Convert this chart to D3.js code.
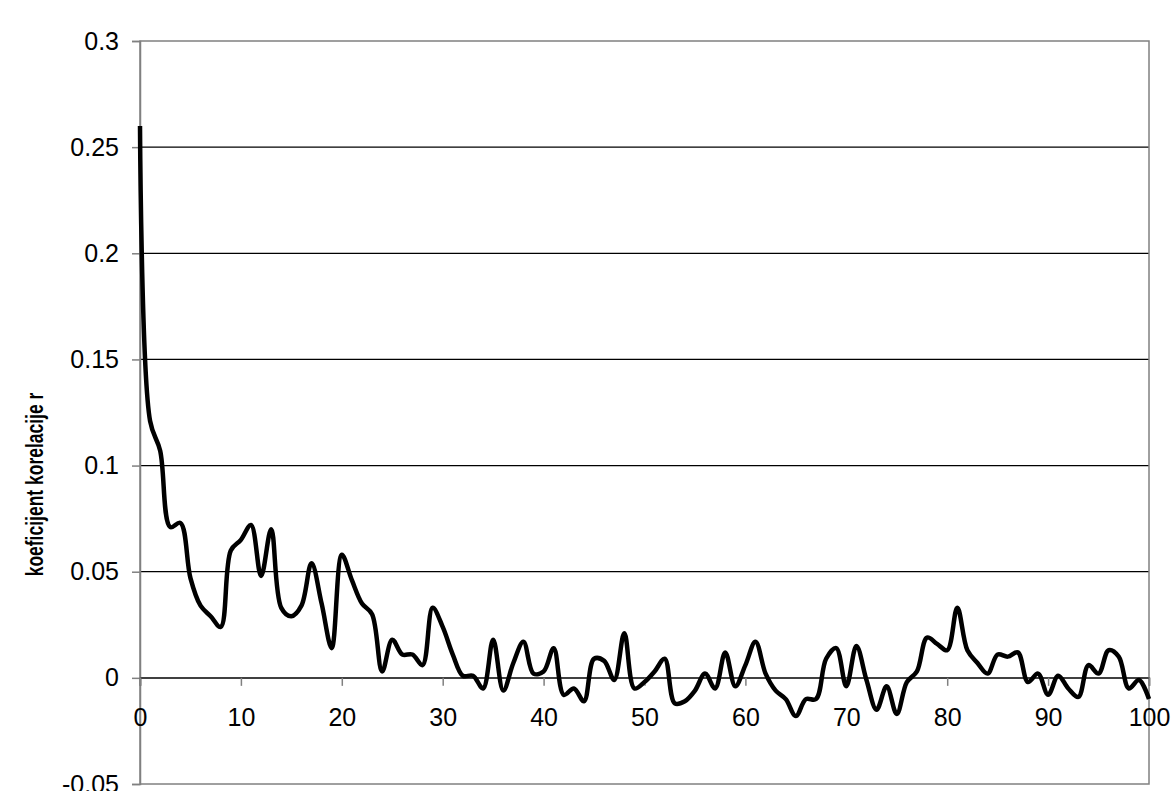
<!DOCTYPE html>
<html>
<head>
<meta charset="utf-8">
<script src="https://cdn.jsdelivr.net/npm/d3@7"></script>
<style>
  html, body { margin: 0; padding: 0; background: #fff; }
  text { font-family: "Liberation Sans", Arial, sans-serif; }
</style>
</head>
<body>
<div id="chart"></div>
<script>
// lag (0..100) and correlation coefficient
var lags = d3.range(0, 101);
var rValues = [
  0.260, 0.121, 0.107, 0.071, 0.073, 0.047, 0.034, 0.029, 0.024, 0.060,
  0.065, 0.072, 0.048, 0.070, 0.033, 0.029, 0.034, 0.054, 0.035, 0.014,
  0.058, 0.046, 0.035, 0.030, 0.003, 0.018, 0.011, 0.011, 0.006, 0.033,
  0.024, 0.011, 0.001, 0.001, -0.005, 0.018, -0.006, 0.007, 0.017, 0.002,
  0.003, 0.014, -0.008, -0.005, -0.011, 0.009, 0.008, -0.001, 0.021, -0.005,
  -0.002, 0.003, 0.009, -0.012, -0.011, -0.006, 0.002, -0.005, 0.012, -0.004,
  0.006, 0.017, 0.002, -0.006, -0.010, -0.018, -0.010, -0.010, 0.009, 0.014,
  -0.004, 0.015, -0.001, -0.015, -0.004, -0.017, -0.002, 0.003, 0.019, 0.016,
  0.013, 0.033, 0.013, 0.007, 0.002, 0.011, 0.010, 0.012, -0.002, 0.002,
  -0.008, 0.001, -0.005, -0.009, 0.006, 0.002, 0.013, 0.010, -0.005, -0.001,
  -0.010
];
var xTicks = [0, 10, 20, 30, 40, 50, 60, 70, 80, 90, 100];
var yTicks = [-0.05, 0, 0.05, 0.1, 0.15, 0.2, 0.25, 0.3];
var yLabel = "koeficijent korelacije r";

var width = 1176, height = 791;
// plot area edges (note: "top" is taken by window.top)
var plotLeft = 140, plotRight = 1149, plotTop = 41, plotBottom = 784;

var svg = d3.select("#chart").append("svg")
  .attr("width", width)
  .attr("height", height);

var x = d3.scaleLinear().domain([0, 100]).range([plotLeft, plotRight]);
var y = d3.scaleLinear().domain([-0.05, 0.3]).range([plotBottom, plotTop]);

// horizontal gridlines
svg.append("g").selectAll("line")
  .data(yTicks.filter(function(d) { return d > -0.04 && d < 0.29; }))
  .enter().append("line")
  .attr("x1", plotLeft).attr("x2", plotRight)
  .attr("y1", function(d) { return y(d); })
  .attr("y2", function(d) { return y(d); })
  .style("stroke", "#000")
  .style("stroke-width", 1.2);

// plot area border
svg.append("rect")
  .attr("x", plotLeft).attr("y", plotTop)
  .attr("width", plotRight - plotLeft).attr("height", plotBottom - plotTop)
  .style("fill", "none")
  .style("stroke", "#808080")
  .style("stroke-width", 1.5);

// y axis with ticks on the left
var yAxis = d3.axisLeft(y)
  .tickValues(yTicks)
  .tickSize(8)
  .tickPadding(13)
  .tickFormat(function(d) { return String(+d.toFixed(2)); });
var gy = svg.append("g")
  .attr("transform", "translate(" + plotLeft + ",0)")
  .call(yAxis);
gy.attr("font-size", null).attr("font-family", null);
gy.select(".domain").style("stroke", "#808080").style("stroke-width", 1.5);
gy.selectAll(".tick line").style("stroke", "#808080").style("stroke-width", 1.5);
gy.selectAll(".tick text")
  .style("font-size", "25px")
  .style("fill", "#000");

// x axis sits on r = 0
var xAxis = d3.axisBottom(x)
  .tickValues(xTicks)
  .tickSize(8)
  .tickPadding(22)
  .tickFormat(d3.format("d"));
var gx = svg.append("g")
  .attr("transform", "translate(0," + y(0) + ")")
  .call(xAxis);
gx.attr("font-size", null).attr("font-family", null);
gx.select(".domain").style("stroke", "#404040").style("stroke-width", 1.5);
gx.selectAll(".tick line").style("stroke", "#808080").style("stroke-width", 1.5);
gx.selectAll(".tick text")
  .style("font-size", "25px")
  .style("fill", "#000");

// y axis title (glyphs are wider in the original, hence the scale)
svg.append("text")
  .attr("transform", "translate(43," + ((plotTop + plotBottom) / 2 + 72) + ") rotate(-90) scale(1,1.4)")
  .attr("text-anchor", "middle")
  .style("font-size", "17.5px")
  .style("font-weight", "bold")
  .text(yLabel);

// smoothed correlation line
var line = d3.line()
  .x(function(d, i) { return x(lags[i]); })
  .y(function(d) { return y(d); })
  .curve(d3.curveCatmullRom.alpha(0.5));

svg.append("path")
  .datum(rValues)
  .attr("d", line)
  .style("fill", "none")
  .style("stroke", "#000")
  .style("stroke-width", 4.5)
  .style("stroke-linejoin", "round");
</script>
</body>
</html>
